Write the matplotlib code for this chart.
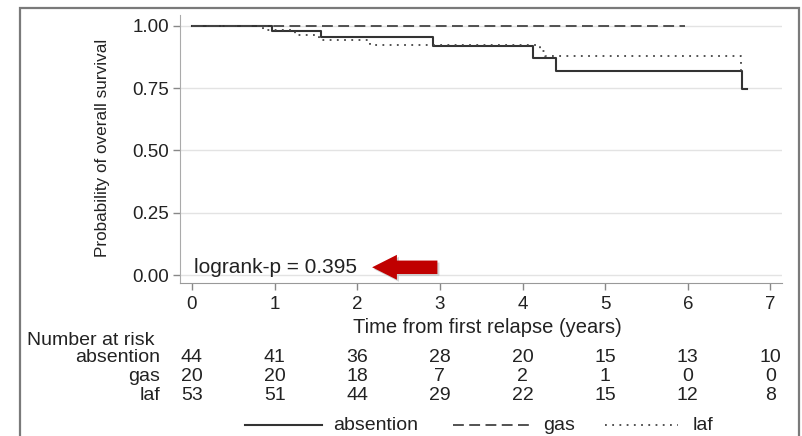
import numpy as np
import matplotlib
matplotlib.use("Agg")
import matplotlib.pyplot as plt
from matplotlib.lines import Line2D
from matplotlib.patches import Rectangle, FancyArrow
from matplotlib.transforms import blended_transform_factory, ScaledTranslation

plt.rcParams['font.family'] = ['Liberation Sans', 'DejaVu Sans']

# Kaplan-Meier step data
absention_t = [0, 0.97, 1.56, 2.92, 4.13, 4.40, 6.65, 6.72]
absention_s = [1.0, 0.977, 0.953, 0.920, 0.871, 0.817, 0.748, 0.748]
gas_t = [0, 5.97]
gas_s = [1.0, 1.0]
laf_t = [0, 0.86, 1.25, 1.54, 2.15, 4.21, 4.27, 6.64]
laf_s = [1.0, 0.981, 0.963, 0.943, 0.922, 0.900, 0.877, 0.800]

# Number at risk table
risk_times = [0, 1, 2, 3, 4, 5, 6, 7]
risk_groups = ["absention", "gas", "laf"]
risk_absention = [44, 41, 36, 28, 20, 15, 13, 10]
risk_gas = [20, 20, 18, 7, 2, 1, 0, 0]
risk_laf = [53, 51, 44, 29, 22, 15, 12, 8]

yticks = [0.0, 0.25, 0.5, 0.75, 1.0]
ytick_labels = ["0.00", "0.25", "0.50", "0.75", "1.00"]
pvalue_text = "logrank-p = 0.395"

W, H = 802, 436
FS = 13.5
txt_col = "#222222"
fig = plt.figure(figsize=(W / 100, H / 100), dpi=100)
ax = fig.add_axes([180 / W, 1 - 283 / H, (782 - 180) / W, (283 - 15) / H])

line_col = "#333333"
ax.plot(absention_t, absention_s, drawstyle="steps-post", color=line_col, lw=1.5, zorder=3)
ax.plot(gas_t, gas_s, drawstyle="steps-post", color="#444444", lw=1.3,
        dashes=(6, 3), zorder=3)
ax.plot(laf_t, laf_s, drawstyle="steps-post", color="#444444", lw=1.3,
        dashes=(1, 3), zorder=3)

ax.set_xlim(-0.145, 7.14)
ax.set_ylim(-0.032, 1.043)
ax.set_xticks(risk_times)
ax.set_yticks(yticks)
ax.set_yticklabels(ytick_labels)
ax.grid(axis="y", color="#e3e3e3", lw=1.0, zorder=0)
ax.set_axisbelow(True)
for s in ["top", "right"]:
    ax.spines[s].set_visible(False)
ax.spines["left"].set_color("#aaaaaa")
ax.spines["bottom"].set_color("#999999")
ax.tick_params(axis="both", colors="#888888", labelcolor=txt_col,
               labelsize=FS, length=5, width=1)
ax.tick_params(axis="y", pad=3)
ax.tick_params(axis="x", pad=4)

# p-value and arrow
ax.text(0.02, 0.03, pvalue_text, fontsize=15, color=txt_col,
        va="center", ha="left")
shadow = ax.transData + ScaledTranslation(2 / 100, -2 / 100, fig.dpi_scale_trans)
ax.add_patch(FancyArrow(2.97, 0.031, -0.79, 0, width=0.054, head_width=0.10,
                        head_length=0.30, length_includes_head=True,
                        color="#b8b8b8", alpha=0.6, lw=0, transform=shadow,
                        zorder=4, clip_on=False))
ax.add_patch(FancyArrow(2.97, 0.031, -0.79, 0, width=0.054, head_width=0.10,
                        head_length=0.30, length_includes_head=True,
                        color="#c00000", lw=0, zorder=5, clip_on=False))

# axis labels
fig.text(487 / W, 1 - 327 / H, "Time from first relapse (years)", fontsize=14.5,
         ha="center", va="center", color=txt_col)
fig.text(103 / W, 1 - 148 / H, "Probability of overall survival", fontsize=12.3,
         rotation=90, ha="center", va="center", color=txt_col)

# number at risk
tr = blended_transform_factory(ax.transData, fig.transFigure)
fig.text(27 / W, 1 - 340 / H, "Number at risk", fontsize=FS + 0.5, ha="left",
         va="center", color=txt_col)
row_y = [358, 376, 395]
for name, vals, yy in zip(risk_groups, [risk_absention, risk_gas, risk_laf], row_y):
    fig.text(160 / W, 1 - yy / H, name, fontsize=FS + 0.5, ha="right", va="center",
             color=txt_col)
    for t, v in zip(risk_times, vals):
        ax.text(t, 1 - yy / H, str(v), transform=tr, fontsize=FS + 0.5, ha="center",
                va="center", color=txt_col)

# legend drawn by hand
ly = 1 - 425 / H
fig.add_artist(Line2D([245 / W, 322 / W], [ly, ly], color=line_col, lw=1.5,
                      transform=fig.transFigure))
fig.text(333 / W, ly, "absention", fontsize=FS + 0.5, ha="left", va="center", color=txt_col)
fig.add_artist(Line2D([453 / W, 530 / W], [ly, ly], color="#444444", lw=1.3,
                      dashes=(6, 3), transform=fig.transFigure))
fig.text(543 / W, ly, "gas", fontsize=FS + 0.5, ha="left", va="center", color=txt_col)
fig.add_artist(Line2D([605 / W, 678 / W], [ly, ly], color="#444444", lw=1.3,
                      dashes=(1, 3), transform=fig.transFigure))
fig.text(693 / W, ly, "laf", fontsize=FS + 0.5, ha="left", va="center", color=txt_col)

# outer frame
fig.add_artist(Rectangle((20 / W, -0.05), (799 - 20) / W, 1.05 - 8 / H,
                         transform=fig.transFigure, fill=False,
                         edgecolor="#7a7a7a", lw=1.6))

fig.savefig("out.png", dpi=100)
